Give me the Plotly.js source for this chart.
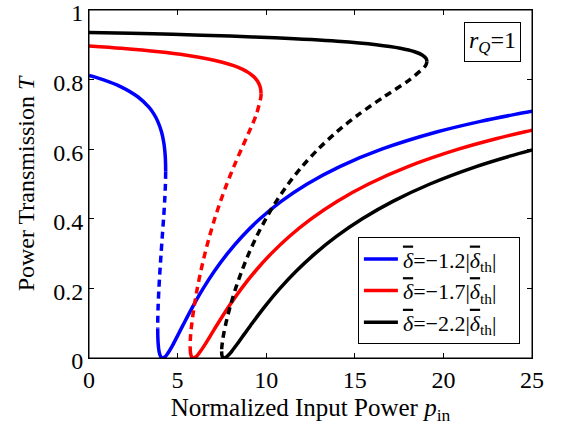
<!DOCTYPE html>
<html><head><meta charset="utf-8">
<script src="https://cdn.plot.ly/plotly-3.0.1.min.js"></script>
<style>body{margin:0;padding:0;background:#fff}#chart{width:563px;height:433px}</style>
</head><body><div id="chart"></div>
<script>
// delta = -1.2|delta_th| (blue)
const blueUpperP = [0, 0.348, 0.785, 1.778, 2.771, 3.392, 3.673, 3.880, 4.090, 4.217, 4.269, 4.302, 4.320, 4.326, 4.326];
const blueUpperT = [0.812, 0.807, 0.80, 0.78, 0.75, 0.72, 0.70, 0.68, 0.65, 0.62, 0.60, 0.58, 0.56, 0.54, 0.535];
const blueMidP = [4.326, 4.314, 4.269, 4.207, 4.137, 4.068, 4.003, 3.946, 3.902, 3.885, 3.878, 3.877];
const blueMidT = [0.535, 0.50, 0.45, 0.40, 0.35, 0.30, 0.25, 0.20, 0.15, 0.12, 0.10, 0.085];
const blueLowerP = [3.877, 3.885, 3.905, 3.950, 3.996, 4.059, 4.157, 4.280, 4.402, 4.533, 4.755, 5.060, 5.360, 5.879, 6.446, 7.082, 7.809, 8.653, 9.650, 10.847, 12.314, 14.151, 16.516, 19.664, 22.101, 24.040, 25.125];
const blueLowerT = [0.085, 0.06, 0.04, 0.02, 0.01, 0.003, 0, 0.003, 0.01, 0.02, 0.04, 0.07, 0.10, 0.15, 0.20, 0.25, 0.30, 0.35, 0.40, 0.45, 0.50, 0.55, 0.60, 0.65, 0.68, 0.70, 0.71];

// delta = -1.7|delta_th| (red)
const redUpperP = [0, 1.819, 3.941, 5.501, 6.657, 7.520, 8.165, 8.646, 9.001, 9.261, 9.445, 9.571, 9.651, 9.694, 9.708];
const redUpperT = [0.8966, 0.89, 0.88, 0.87, 0.86, 0.85, 0.84, 0.83, 0.82, 0.81, 0.80, 0.79, 0.78, 0.77, 0.76];
const redMidP = [9.708, 9.700, 9.446, 9.038, 8.599, 8.173, 7.778, 7.418, 7.093, 6.802, 6.542, 6.312, 6.111, 5.940, 5.803, 5.742, 5.716, 5.708];
const redMidT = [0.76, 0.75, 0.70, 0.65, 0.60, 0.55, 0.50, 0.45, 0.40, 0.35, 0.30, 0.25, 0.20, 0.15, 0.10, 0.07, 0.05, 0.033];
const redLowerP = [5.708, 5.718, 5.745, 5.797, 5.889, 6.017, 6.152, 6.301, 6.560, 6.922, 7.284, 7.917, 8.611, 9.392, 10.283, 11.318, 12.537, 13.996, 15.778, 18.000, 20.846, 22.970, 24.613, 25.516];
const redLowerT = [0.033, 0.02, 0.01, 0.003, 0, 0.003, 0.01, 0.02, 0.04, 0.07, 0.10, 0.15, 0.20, 0.25, 0.30, 0.35, 0.40, 0.45, 0.50, 0.55, 0.60, 0.63, 0.65, 0.66];

// delta = -2.2|delta_th| (black)
const blackUpperP = [0, 2.353, 4.730, 7.964, 10.484, 14.016, 16.210, 17.565, 18.375, 18.824, 19.029, 19.070];
const blackUpperT = [0.9356, 0.933, 0.93, 0.925, 0.92, 0.91, 0.90, 0.89, 0.88, 0.87, 0.86, 0.852];
const blackMidP = [19.070, 19.067, 18.990, 18.105, 16.628, 15.220, 13.987, 12.929, 12.022, 11.242, 10.567, 9.980, 9.467, 9.017, 8.622, 8.276, 7.978, 7.727, 7.605, 7.539, 7.494, 7.485];
const blackMidT = [0.852, 0.85, 0.84, 0.80, 0.75, 0.70, 0.65, 0.60, 0.55, 0.50, 0.45, 0.40, 0.35, 0.30, 0.25, 0.20, 0.15, 0.10, 0.07, 0.05, 0.03, 0.019];
const blackLowerP = [7.485, 7.495, 7.534, 7.621, 7.754, 7.901, 8.068, 8.364, 8.785, 9.209, 9.954, 10.776, 11.701, 12.758, 13.983, 15.423, 17.146, 19.242, 21.849, 23.741, 25.176];
const blackLowerT = [0.019, 0.01, 0.003, 0, 0.003, 0.01, 0.02, 0.04, 0.07, 0.10, 0.15, 0.20, 0.25, 0.30, 0.35, 0.40, 0.45, 0.50, 0.55, 0.58, 0.60];

const DB = '<span style="text-decoration:overline"><i>δ</i></span>';
const PAD = '\u00a0\u00a0\u00a0';
const legendNames = [
  DB + '=\u22121.2|' + DB + '<sub>th</sub>|' + PAD,
  DB + '=\u22121.7|' + DB + '<sub>th</sub>|' + PAD,
  DB + '=\u22122.2|' + DB + '<sub>th</sub>|' + PAD
];
const xTicks = [0, 5, 10, 15, 20, 25];
const yTicks = [0, 0.2, 0.4, 0.6, 0.8, 1];
const yTickText = ['0', '0.2', '0.4', '0.6', '0.8', '1'];

const W = 3.5;
const DASH = '7px,5px';
function seg(x, y, color, dash, name, show) {
  return {x: x, y: y, type: 'scatter', mode: 'lines', name: name, legendgroup: color,
    showlegend: show, line: {color: color, width: W, dash: dash, shape: 'spline', smoothing: 0.8},
    hoverinfo: 'skip'};
}
const data = [
  seg(blueUpperP, blueUpperT, '#0000ff', 'solid', legendNames[0], true),
  seg(blueMidP, blueMidT, '#0000ff', DASH, legendNames[0], false),
  seg(blueLowerP, blueLowerT, '#0000ff', 'solid', legendNames[0], false),
  seg(redUpperP, redUpperT, '#ff0000', 'solid', legendNames[1], true),
  seg(redMidP, redMidT, '#ff0000', DASH, legendNames[1], false),
  seg(redLowerP, redLowerT, '#ff0000', 'solid', legendNames[1], false),
  seg(blackUpperP, blackUpperT, '#000000', 'solid', legendNames[2], true),
  seg(blackMidP, blackMidT, '#000000', DASH, legendNames[2], false),
  seg(blackLowerP, blackLowerT, '#000000', 'solid', legendNames[2], false)
];
const FONT = 'Liberation Serif, Times New Roman, serif';
const layout = {
  width: 563, height: 433,
  margin: {l: 89, r: 31, t: 10, b: 75},
  paper_bgcolor: '#ffffff', plot_bgcolor: '#ffffff',
  font: {family: FONT, size: 22, color: '#000'},
  showlegend: true,
  legend: {x: 0.607, y: 0.1935, xanchor: 'left', yanchor: 'middle', bgcolor: '#ffffff',
    bordercolor: '#000', borderwidth: 1, font: {family: FONT, size: 22, color: '#000'},
    tracegroupgap: 0, itemwidth: 34},
  xaxis: {range: [0, 25], tickvals: xTicks, ticks: 'inside', ticklen: 5, tickcolor: '#000',
    showline: true, linecolor: '#000', linewidth: 1, mirror: 'ticks', showgrid: false, zeroline: false,
    ticklabeloverflow: 'allow',
    tickfont: {family: FONT, size: 24, color: '#000'},
    title: {text: 'Normalized Input Power <i>p</i><sub>in</sub>', font: {family: FONT, size: 25, color: '#000'}, standoff: 6}},
  yaxis: {range: [0, 1], autorange: false, tickvals: yTicks, ticktext: yTickText, ticks: 'inside', ticklen: 5, tickcolor: '#000',
    showline: true, linecolor: '#000', linewidth: 1, mirror: 'ticks', showgrid: false, zeroline: false,
    ticklabeloverflow: 'allow', ticklabelshift: 3,
    tickfont: {family: FONT, size: 24, color: '#000'},
    title: {text: 'Power Transmission <i>T</i>', font: {family: FONT, size: 24, color: '#000'}, standoff: 11}},
  shapes: [{type: 'rect', xref: 'paper', yref: 'paper', x0: 0, x1: 1, y0: 0, y1: 1,
    line: {color: '#000', width: 1}, fillcolor: 'rgba(0,0,0,0)', layer: 'above'}],
  annotations: [{xref: 'paper', yref: 'paper', x: 0.975, y: 0.9655, xanchor: 'right', yanchor: 'top',
    text: '<i>r</i><sub><i>Q</i></sub>=1', showarrow: false, font: {family: FONT, size: 24, color: '#000'},
    bordercolor: '#000', borderwidth: 1, borderpad: 4, bgcolor: '#fff'}]
};
Plotly.newPlot('chart', data, layout, {displayModeBar: false, staticPlot: true});
</script></body></html>
